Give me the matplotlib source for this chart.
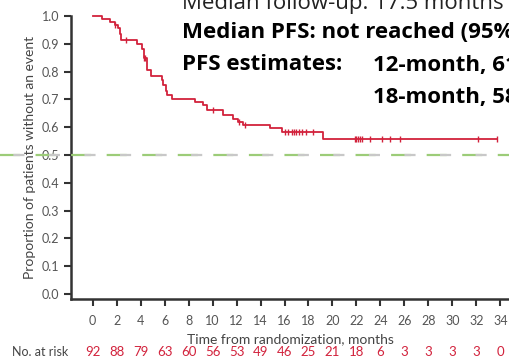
import numpy as np
import matplotlib.pyplot as plt

# KM curve (step times in months, survival after step)
step_t = [0, 0.8, 1.45, 1.9, 2.1, 2.3, 2.4, 3.7, 4.1, 4.3, 4.5, 4.9, 5.75, 5.9, 6.1,
          6.2, 6.6, 8.5, 9.2, 9.5, 10.9, 11.7, 12.1, 12.5, 14.8, 15.75, 19.2]
step_s = [1.0, 0.99, 0.978, 0.967, 0.956, 0.935, 0.914, 0.90, 0.88, 0.85, 0.806, 0.784,
          0.77, 0.75, 0.73, 0.716, 0.70, 0.692, 0.68, 0.662, 0.644, 0.630, 0.618, 0.608,
          0.598, 0.582, 0.557]
t_end = 33.7
censor_t = [1.9, 2.8, 4.3, 4.4, 10.0, 12.2, 12.7, 16.0, 16.3, 16.6, 16.8, 17.0, 17.2,
            17.5, 17.8, 18.4, 21.9, 22.0, 22.1, 22.3, 22.5, 23.1, 24.1, 24.8, 25.6,
            32.1, 33.7]

risk_times = list(range(0, 35, 2))
at_risk = [92, 88, 79, 63, 60, 56, 53, 49, 46, 25, 21, 18, 6, 3, 3, 3, 3, 0]

red = '#d2223c'
grey = '#555555'

def surv_at(t):
    i = np.searchsorted(step_t, t, side='right') - 1
    return step_s[i]

fig = plt.figure(figsize=(5.10, 3.62), dpi=100)
ax = fig.add_axes([71/510, 0.173, 1 - 71/510, 0.783])
ax.set_xlim(-1.8, 34.8)
ax.set_ylim(-0.019, 1.0)

ax.step(step_t + [t_end], step_s + [step_s[-1]], where='post', color=red, lw=1.3,
        clip_on=False, zorder=3)
ax.plot(censor_t, [surv_at(t) for t in censor_t], ls='none', marker='|', ms=5,
        mew=1.0, color=red, clip_on=False, zorder=3)

# median line across the whole figure
y_med = 1 - 155/362
for dash, col, off in [((9, 7), '#9ccc78', 0), ((5, 11), '#c8c8c8', 10)]:
    ln = plt.Line2D([0, 1], [y_med, y_med], transform=fig.transFigure,
                    color=col, lw=1.6, linestyle=(off, dash), zorder=5)
    fig.add_artist(ln)

for side in ['top', 'right']:
    ax.spines[side].set_visible(False)
for side in ['left', 'bottom']:
    ax.spines[side].set_color('#333333')
    ax.spines[side].set_linewidth(1.8)

ax.set_xticks(risk_times)
ax.set_yticks(np.arange(0, 1.01, 0.1))
ax.set_yticklabels([f'{v:.1f}' for v in np.arange(0, 1.01, 0.1)])
ax.tick_params(colors='#333333', labelcolor=grey, labelsize=9, width=1.5, length=5,
               direction='out')
for lab in ax.get_xticklabels() + ax.get_yticklabels():
    lab.set_family('Lato')
ax.tick_params(axis='x', pad=6)

ax.set_xlabel('Time from randomization, months', fontsize=10, color='#444444',
              family='Lato', labelpad=5)
ax.set_ylabel('Proportion of patients without an event', fontsize=10, color='#444444',
              family='Lato', labelpad=4)

# number at risk row
fig.text(12/510, 1 - 352/362, 'No. at risk', fontsize=9, color='#444444',
         family='Lato', va='center')
for t, n in zip(risk_times, at_risk):
    ax.annotate(str(n), xy=(t, 0), xycoords=('data', 'axes fraction'),
                xytext=(0, -38), textcoords='offset points', ha='center',
                va='center', fontsize=9.5, color=red, family='Lato',
                annotation_clip=False)

# overlay text box
x0 = 182/510
tf = 'Open Sans'
fs = 16
fig.text(x0, 1 - 4/362, 'Median follow-up: 17.5 months', fontsize=fs, family=tf,
         va='center', color='#222222')
fig.text(x0, 1 - 33/362, 'Median PFS: not reached (95% CI, 14.8–NE)', fontsize=fs,
         family=tf, weight='bold', va='center', color='black')
fig.text(x0, 1 - 65/362, 'PFS estimates:', fontsize=fs, family=tf, weight='bold',
         va='center', color='black')
fig.text(373/510, 1 - 65/362, '12-month, 61.8%', fontsize=fs, family=tf,
         weight='bold', va='center', color='black')
fig.text(373/510, 1 - 98/362, '18-month, 58.2%', fontsize=fs, family=tf,
         weight='bold', va='center', color='black')

fig.savefig('out.png', dpi=100)
